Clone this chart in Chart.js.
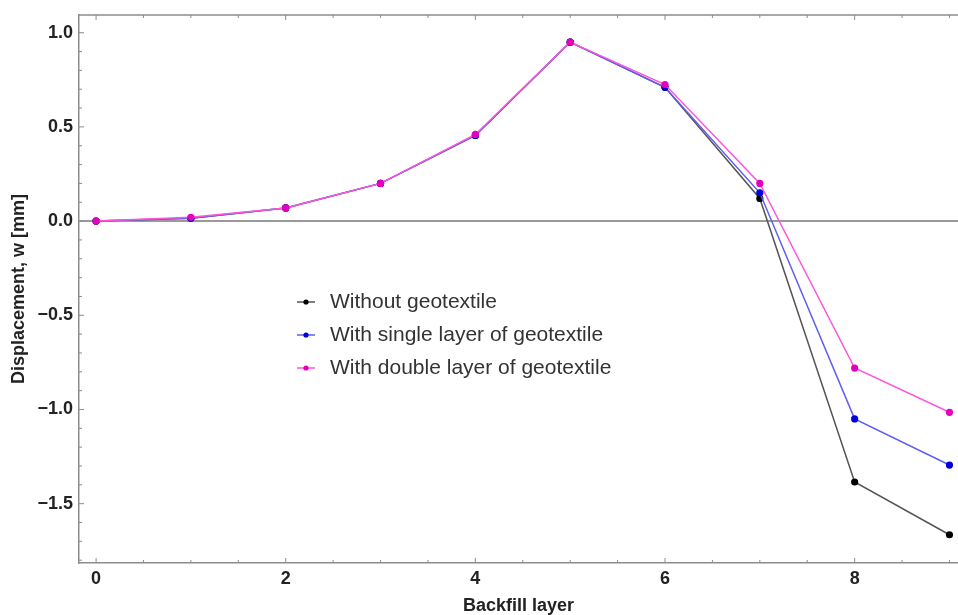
<!DOCTYPE html>
<html>
<head>
<meta charset="utf-8">
<script src="https://cdn.jsdelivr.net/npm/chart.js@4.4.1/dist/chart.umd.min.js"></script>
<style>
  html, body { margin: 0; padding: 0; background: #fff; }
  #wrap { width: 958px; height: 615px; position: relative; }
</style>
</head>
<body>
<div id="wrap"><canvas id="dispChart"></canvas></div>
<script>
// backfill layer vs. displacement w [mm]
const layers = [0, 1, 2, 3, 4, 5, 6, 7, 8, 9];
const withoutGeo = [0, 0.015, 0.07, 0.2, 0.455, 0.95, 0.71, 0.12, -1.385, -1.665];
const singleGeo  = [0, 0.015, 0.07, 0.2, 0.455, 0.95, 0.71, 0.15, -1.05, -1.295];
const doubleGeo  = [0, 0.02, 0.07, 0.2, 0.46, 0.95, 0.725, 0.2, -0.78, -1.015];
const seriesNames = ['Without geotextile', 'With single layer of geotextile', 'With double layer of geotextile'];
const xTicks = [0, 2, 4, 6, 8];
const yTicks = [-1.5, -1.0, -0.5, 0.0, 0.5, 1.0];

const AXIS = '#8c8c8c';
const FONT = '"Liberation Sans", Arial, sans-serif';

const toPoints = vals => vals.map((v, i) => ({ x: layers[i], y: v }));

function series(label, vals, line, dot, order) {
  return {
    label: label,
    data: toPoints(vals),
    borderColor: line,
    backgroundColor: dot,
    pointBackgroundColor: dot,
    pointBorderWidth: 0,
    pointRadius: 3.6,
    borderWidth: 1.5,
    tension: 0,
    order: order
  };
}

// inward tick marks, top frame line and the inset legend
const framePlugin = {
  id: 'framePlugin',
  afterDraw(chart) {
    const ctx = chart.ctx;
    const area = chart.chartArea;
    const xs = chart.scales.x, ys = chart.scales.y;
    ctx.save();
    ctx.strokeStyle = AXIS;
    ctx.lineWidth = 1.5;
    ctx.beginPath();
    ctx.moveTo(area.left, area.top);
    ctx.lineTo(area.right, area.top);
    ctx.stroke();

    ctx.lineWidth = 1;
    for (let k = 0; k <= 18; k++) {
      const v = k / 2;
      const px = xs.getPixelForValue(v);
      const len = (k % 4 === 0) ? 5 : 3;
      ctx.beginPath();
      ctx.moveTo(px, area.bottom); ctx.lineTo(px, area.bottom - len);
      ctx.moveTo(px, area.top); ctx.lineTo(px, area.top + len);
      ctx.stroke();
    }
    for (let k = -18; k <= 10; k++) {
      const v = k / 10;
      const py = ys.getPixelForValue(v);
      const len = (k % 5 === 0) ? 5 : 3;
      ctx.beginPath();
      ctx.moveTo(area.left, py); ctx.lineTo(area.left + len, py);
      ctx.stroke();
    }

    // legend
    const lx = 297, ly = 302, gap = 33;
    ctx.font = '21px ' + FONT;
    ctx.textBaseline = 'middle';
    chart.data.datasets.forEach((ds, i) => {
      const y = ly + i * gap;
      ctx.strokeStyle = ds.borderColor;
      ctx.lineWidth = 1.5;
      ctx.beginPath();
      ctx.moveTo(lx, y); ctx.lineTo(lx + 18, y);
      ctx.stroke();
      ctx.fillStyle = ds.pointBackgroundColor;
      ctx.beginPath();
      ctx.arc(lx + 9, y, 2.6, 0, Math.PI * 2);
      ctx.fill();
      ctx.fillStyle = '#333';
      ctx.fillText(ds.label, lx + 33, y);
    });
    ctx.restore();
  }
};

const ctx = document.getElementById('dispChart').getContext('2d');
const dispChart = new Chart(ctx, {
  type: 'line',
  data: {
    datasets: [
      series(seriesNames[0], withoutGeo, '#555555', '#000000', 2),
      series(seriesNames[1], singleGeo, '#5e5ef0', '#0000dd', 1),
      series(seriesNames[2], doubleGeo, '#ff55dd', '#e600bb', 0)
    ]
  },
  options: {
    responsive: true,
    maintainAspectRatio: false,
    animation: false,
    layout: { autoPadding: false, padding: { top: 15, right: 0, left: 0, bottom: 0 } },
    plugins: {
      legend: { display: false },
      tooltip: { enabled: false }
    },
    scales: {
      x: {
        type: 'linear',
        min: -0.18,
        max: 9.09,
        afterFit: s => { s.height = 52; s.paddingLeft = 0; s.paddingRight = 0; },
        afterBuildTicks: s => { s.ticks = xTicks.map(v => ({ value: v })); },
        grid: { display: false, drawTicks: false },
        border: { display: true, color: AXIS, width: 1.5 },
        ticks: {
          color: '#222',
          padding: 5,
          font: { family: FONT, size: 18, weight: 'bold' },
          callback: v => String(v)
        },
        title: {
          display: true,
          text: 'Backfill layer',
          color: '#222',
          font: { family: FONT, size: 18, weight: 'bold', lineHeight: 1 },
          padding: { top: 0, bottom: 0 }
        }
      },
      y: {
        min: -1.815,
        max: 1.094,
        afterFit: s => { s.width = 79; s.paddingTop = 0; s.paddingBottom = 0; },
        afterBuildTicks: s => { s.ticks = yTicks.map(v => ({ value: v })); },
        grid: {
          drawTicks: false,
          color: c => (c.tick && c.tick.value === 0 ? '#9a9a9a' : 'rgba(0,0,0,0)'),
          lineWidth: 2
        },
        border: { display: true, color: AXIS, width: 1.5 },
        ticks: {
          color: '#222',
          padding: 6,
          font: { family: FONT, size: 18, weight: 'bold' },
          callback: v => v.toFixed(1).replace('-', '\u2212')
        },
        title: {
          display: true,
          text: 'Displacement, w [mm]',
          color: '#222',
          font: { family: FONT, size: 18, weight: 'bold', lineHeight: 1 },
          padding: { top: 10, bottom: 0 }
        }
      }
    }
  },
  plugins: [framePlugin]
});
</script>
</body>
</html>
